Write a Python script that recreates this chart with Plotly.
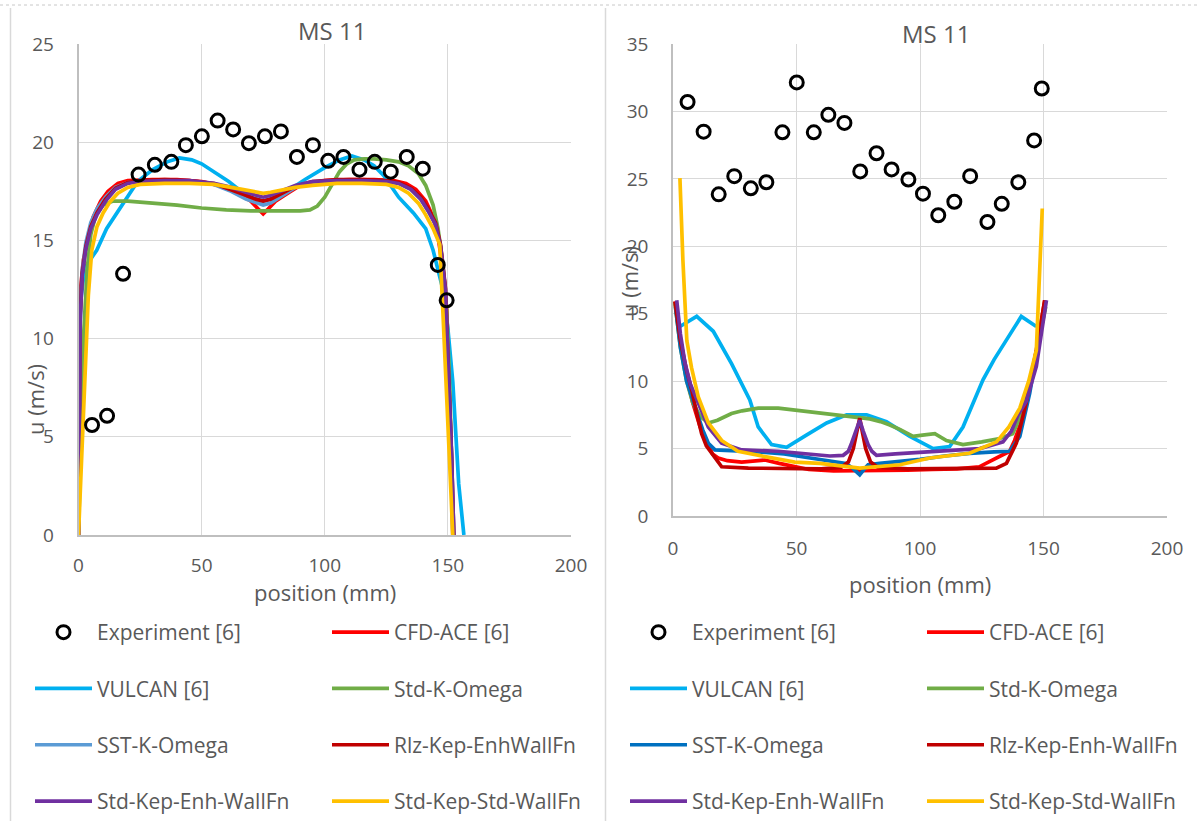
import plotly.graph_objects as go

# ---------------- data: left panel ----------------
L_exp_x = [5.5, 11.6, 18.1, 24.4, 31.0, 37.7, 43.6, 50.1, 56.5, 62.8, 69.2, 75.7, 82.2, 88.7, 95.2, 101.4, 107.6, 114.1, 120.3, 126.8, 133.3, 139.8, 145.9, 149.5]
L_exp_y = [5.6, 6.07, 13.3, 18.35, 18.85, 19.0, 19.85, 20.3, 21.1, 20.65, 19.95, 20.3, 20.55, 19.25, 19.85, 19.05, 19.25, 18.6, 19.0, 18.5, 19.25, 18.65, 13.75, 11.95]

L_cfd_x = [0, 1, 2, 4, 6, 9, 12, 16, 20, 30, 40, 50, 60, 65, 70, 73, 75, 77, 80, 85, 90, 100, 110, 120, 128, 133, 137, 141, 144, 146, 148, 149.5, 150.5, 151.5, 152]
L_cfd_y = [11.5, 13.0, 14.0, 15.2, 16.2, 17.0, 17.5, 17.9, 18.05, 18.1, 18.1, 18.0, 17.7, 17.4, 17.0, 16.6, 16.35, 16.6, 17.0, 17.4, 17.8, 18.05, 18.1, 18.1, 18.05, 17.9, 17.6, 17.0, 16.2, 15.2, 13.5, 11.5, 8.0, 3.0, 0]

L_vul_x = [0, 1, 2.5, 4.7, 7.4, 11.4, 15, 18, 24, 30, 36, 41, 46, 50, 55, 61, 66, 70, 75, 80, 86, 92, 100, 106, 111, 116, 120, 124, 130, 136, 141, 144, 148, 150, 152, 154.4, 156.5]
L_vul_y = [8.3, 12.0, 13.6, 14.0, 14.5, 15.6, 16.3, 16.9, 18.0, 18.6, 19.0, 19.2, 19.1, 18.9, 18.5, 18.0, 17.5, 17.2, 17.0, 17.2, 17.6, 18.1, 18.7, 19.1, 19.3, 19.1, 18.8, 18.3, 17.2, 16.4, 15.6, 14.5, 12.5, 10.5, 7.8, 2.6, 0]

L_sko_x = [0, 1, 2, 3.5, 5, 7, 10, 14, 20, 30, 40, 50, 60, 70, 80, 90, 94, 97, 100, 103, 106, 109, 112, 116, 120, 125, 130, 134, 138, 141, 144, 146, 148, 149.5, 150.5, 151.5, 152]
L_sko_y = [0, 5.0, 10.0, 13.5, 15.3, 16.3, 16.8, 17.0, 17.0, 16.9, 16.8, 16.65, 16.55, 16.5, 16.5, 16.5, 16.55, 16.75, 17.2, 17.9, 18.5, 18.9, 19.1, 19.15, 19.15, 19.1, 19.0, 18.8, 18.4, 17.8, 16.8, 15.6, 13.8, 11.5, 8.5, 4.0, 0]

L_sst_x = [0, 0.3, 0.7, 1.5, 3, 5, 7.5, 11, 15, 20, 25, 35, 45, 55, 62, 68, 72, 75, 78, 82, 88, 95, 105, 115, 125, 130, 135, 139, 142, 145, 147, 149, 150.5, 151.5, 152.4]
L_sst_y = [0, 6.5, 11.5, 13.5, 14.9, 15.9, 16.6, 17.2, 17.7, 17.95, 18.0, 18.05, 18.0, 17.85, 17.5, 17.1, 16.9, 16.8, 16.9, 17.2, 17.7, 17.95, 18.05, 18.05, 18.0, 17.9, 17.6, 17.1, 16.5, 15.8, 14.7, 12.5, 8.0, 4.0, 0]

L_rlz_x = [0, 0.3, 0.7, 1.5, 3, 5, 7.5, 11, 15, 20, 25, 35, 45, 55, 62, 68, 72, 75, 78, 82, 88, 95, 105, 115, 125, 130, 135, 139, 142, 145, 147, 149, 150.5, 151.5, 152.4]
L_rlz_y = [0, 6.2, 11.2, 13.3, 14.7, 15.7, 16.4, 17.1, 17.65, 17.95, 18.05, 18.1, 18.05, 17.9, 17.6, 17.3, 17.1, 17.0, 17.1, 17.35, 17.75, 18.0, 18.1, 18.1, 18.05, 17.95, 17.65, 17.2, 16.6, 15.9, 14.8, 12.6, 8.0, 4.0, 0]

L_ske_x = [0, 0.3, 0.7, 1.5, 3, 5, 7.5, 11, 15, 20, 25, 35, 45, 55, 62, 68, 72, 75, 78, 82, 88, 95, 105, 115, 125, 130, 135, 139, 142, 145, 147, 149, 150.5, 151.5, 152.4]
L_ske_y = [0, 6.0, 11.0, 13.2, 14.6, 15.6, 16.3, 17.0, 17.6, 17.9, 18.0, 18.05, 18.05, 17.9, 17.7, 17.45, 17.3, 17.2, 17.3, 17.5, 17.8, 18.0, 18.05, 18.05, 18.0, 17.9, 17.6, 17.1, 16.5, 15.8, 14.7, 12.5, 8.0, 4.0, 0]

L_sks_x = [0, 1, 2.6, 4, 5.4, 7.5, 10, 13, 16, 20, 25, 35, 45, 55, 62, 68, 72, 75, 78, 82, 88, 95, 105, 115, 125, 130, 134, 138, 141, 144, 146.7, 148, 149.5, 151, 152]
L_sks_y = [0, 3.3, 8.6, 12.2, 14.5, 15.7, 16.4, 17.0, 17.4, 17.7, 17.85, 17.9, 17.9, 17.85, 17.7, 17.55, 17.45, 17.4, 17.45, 17.55, 17.7, 17.8, 17.9, 17.9, 17.85, 17.7, 17.4, 16.9, 16.3, 15.6, 14.8, 11.3, 7.1, 2.8, 0]

# ---------------- data: right panel ----------------
R_exp_x = [5.9, 12.4, 18.5, 24.8, 31.5, 37.8, 44.3, 50.1, 57.0, 62.9, 69.4, 75.8, 82.4, 88.5, 95.3, 101.2, 107.4, 113.9, 120.3, 127.3, 133.1, 139.8, 146.2, 149.3]
R_exp_y = [30.7, 28.5, 23.85, 25.2, 24.3, 24.75, 28.45, 32.15, 28.45, 29.75, 29.15, 25.55, 26.9, 25.7, 24.95, 23.9, 22.3, 23.3, 25.2, 21.8, 23.15, 24.75, 27.85, 31.7]

R_cfd_x = [0.8, 3, 5.5, 8, 11, 14, 16, 18.3, 22, 27.8, 33, 37.2, 43, 49.3, 55, 65, 75, 85, 95, 105, 115, 124, 128, 132.3, 136.3, 138.3, 141, 144, 147, 150.5]
R_cfd_y = [15.9, 12.8, 10.3, 8.4, 6.6, 5.3, 4.6, 4.3, 4.1, 4.0, 4.1, 4.15, 3.9, 3.65, 3.45, 3.35, 3.35, 3.35, 3.4, 3.45, 3.5, 3.65, 4.0, 4.4, 4.8, 5.6, 7.0, 9.2, 12.0, 16.0]

R_vul_x = [2.8, 9.6, 16.3, 23.7, 31.1, 34.5, 39.9, 46, 54, 62.2, 70.3, 78.4, 86.4, 95.9, 105.3, 112, 117.4, 121, 125.5, 130, 135, 141, 147.1]
R_vul_y = [14.05, 14.8, 13.7, 11.3, 8.6, 6.6, 5.3, 5.1, 6.0, 6.9, 7.5, 7.5, 7.0, 5.9, 5.0, 5.15, 6.6, 8.2, 10.1, 11.6, 13.05, 14.8, 14.05]

R_sko_x = [0.8, 3, 5.5, 8, 11, 14.3, 18, 23.7, 28, 34.5, 42.6, 50, 59.5, 70.3, 79.7, 84, 87.8, 92, 97.2, 101, 106, 110.7, 117.4, 125, 132.3, 137.5, 141, 144, 147, 150.9]
R_sko_y = [15.8, 12.5, 10.0, 8.4, 7.4, 6.9, 7.1, 7.6, 7.8, 8.0, 8.0, 7.85, 7.6, 7.37, 7.2, 7.0, 6.75, 6.4, 5.9, 6.0, 6.1, 5.6, 5.3, 5.5, 5.75, 6.1, 7.5, 9.5, 12.0, 15.5]

R_sst_x = [1, 3, 5.5, 8, 10.2, 12, 14.3, 17, 25, 35, 45, 55, 62, 66.2, 70, 73, 75.6, 78, 79, 83.7, 90, 100, 110, 120, 130, 136.3, 140.4, 144.4, 148.4, 150.5]
R_sst_y = [15.5, 12.5, 10.0, 8.5, 7.4, 6.4, 5.4, 4.9, 4.85, 4.75, 4.6, 4.3, 4.1, 4.0, 3.9, 3.5, 3.05, 3.6, 3.8, 3.9, 4.0, 4.2, 4.45, 4.65, 4.75, 4.8, 5.9, 9.1, 13.3, 15.3]

R_rlz_x = [0.8, 3, 5.5, 7.6, 9.5, 11.6, 13.5, 15.6, 19.7, 30.5, 45, 60, 68, 71, 73, 74.5, 75.6, 76.7, 78, 80, 83, 95, 110, 125, 130.9, 135, 139, 143, 147.1, 150.5]
R_rlz_y = [15.9, 13.0, 10.8, 9.35, 7.7, 6.1, 5.2, 4.65, 3.65, 3.55, 3.5, 3.5, 3.6, 4.0, 5.0, 6.2, 7.25, 6.2, 5.0, 4.0, 3.6, 3.5, 3.5, 3.5, 3.55, 3.9, 5.4, 8.4, 12.3, 16.0]

R_ske_x = [1.5, 3, 4.85, 7, 10.2, 14.3, 19.7, 27.8, 42.6, 55, 63.5, 68.9, 71, 72.3, 74, 75.6, 77, 79, 80.5, 82.4, 90, 99.9, 110, 124.2, 133.6, 137, 139.7, 143, 147.1, 149.5, 151.2]
R_ske_y = [16.0, 13.5, 11.35, 9.8, 8.4, 6.6, 5.4, 4.9, 4.8, 4.6, 4.45, 4.5, 4.8, 5.4, 6.3, 7.1, 6.3, 5.3, 4.8, 4.5, 4.6, 4.7, 4.85, 5.0, 5.5, 6.3, 7.5, 8.5, 11.1, 13.8, 16.0]

R_sks_x = [2.8, 4.0, 5.6, 7.5, 10.2, 14.3, 19.7, 26.3, 37.2, 49.3, 59.5, 75.6, 91.8, 104, 120, 131, 136, 140.4, 144, 147.1, 149.5]
R_sks_y = [25.05, 19.0, 13.0, 11.0, 8.85, 6.9, 5.6, 4.8, 4.4, 4.0, 3.9, 3.55, 3.8, 4.3, 4.65, 5.5, 6.6, 8.0, 10.0, 12.3, 22.8]

# ---------------- series meta ----------------
names_left = ["Experiment [6]", "CFD-ACE [6]", "VULCAN [6]", "Std-K-Omega", "SST-K-Omega",
              "Rlz-Kep-EnhWallFn", "Std-Kep-Enh-WallFn", "Std-Kep-Std-WallFn"]
names_right = ["Experiment [6]", "CFD-ACE [6]", "VULCAN [6]", "Std-K-Omega", "SST-K-Omega",
               "Rlz-Kep-Enh-WallFn", "Std-Kep-Enh-WallFn", "Std-Kep-Std-WallFn"]
colors_left = ["#000000", "#FF0000", "#00B0F0", "#70AD47", "#5B9BD5", "#C00000", "#7030A0", "#FFC000"]
colors_right = ["#000000", "#FF0000", "#00B0F0", "#70AD47", "#0070C0", "#C00000", "#7030A0", "#FFC000"]

left_data = [(L_exp_x, L_exp_y), (L_cfd_x, L_cfd_y), (L_vul_x, L_vul_y), (L_sko_x, L_sko_y),
             (L_sst_x, L_sst_y), (L_rlz_x, L_rlz_y), (L_ske_x, L_ske_y), (L_sks_x, L_sks_y)]
right_data = [(R_exp_x, R_exp_y), (R_cfd_x, R_cfd_y), (R_vul_x, R_vul_y), (R_sko_x, R_sko_y),
              (R_sst_x, R_sst_y), (R_rlz_x, R_rlz_y), (R_ske_x, R_ske_y), (R_sks_x, R_sks_y)]

W, H = 1197, 821
FONT = "Open Sans"
GREY = "#595959"

fig = go.Figure()

def add_panel(data, names, colors, xa, ya, legs, tag):
    # draw lines first (in series order), experiment markers on top
    order = list(range(1, 8)) + [0]
    for i in order:
        x, y = data[i]
        leg = legs[0] if i % 2 == 0 else legs[1]
        rank = i // 2 + 1
        if i == 0:
            fig.add_trace(go.Scatter(
                x=x, y=y, mode="markers", name=names[i], xaxis=xa, yaxis=ya,
                marker=dict(symbol="circle-open", size=13, color="black",
                            line=dict(width=3, color="black")),
                legend=leg, legendgroup=f"{tag}{i}", legendrank=rank))
        else:
            fig.add_trace(go.Scatter(
                x=x, y=y, mode="lines", name=names[i], xaxis=xa, yaxis=ya,
                line=dict(color=colors[i], width=3.7),
                legend=leg, legendgroup=f"{tag}{i}", legendrank=rank))

add_panel(left_data, names_left, colors_left, "x", "y", ["legend", "legend2"], "L")
add_panel(right_data, names_right, colors_right, "x2", "y2", ["legend3", "legend4"], "R")

def px_x(p):
    return p / W

def px_y(p):
    return 1 - p / H

axis_common = dict(
    showgrid=True, gridcolor="#D9D9D9", gridwidth=1.3,
    zeroline=False, showline=True, linecolor="#BFBFBF", linewidth=1.5,
    ticks="", tickfont=dict(family=FONT, size=19, color=GREY),
)

layout_axes = dict(
    xaxis=dict(domain=[px_x(78.5), px_x(571)], range=[0, 200], dtick=50, anchor="y",
               ticklabelstandoff=12, **axis_common),
    yaxis=dict(domain=[px_y(535), px_y(44)], range=[0, 25], dtick=5, anchor="x",
               ticklabelstandoff=19, **axis_common),
    xaxis2=dict(domain=[px_x(673), px_x(1167)], range=[0, 200], dtick=50, anchor="y2",
                ticklabelstandoff=14, **axis_common),
    yaxis2=dict(domain=[px_y(516), px_y(44)], range=[0, 35], dtick=5, anchor="x2",
                ticklabelstandoff=19, **axis_common),
)

ITEMW = 57
leg_common = dict(font=dict(family=FONT, size=21, color=GREY), bgcolor="rgba(0,0,0,0)",
                  orientation="v", xanchor="left", yanchor="top", tracegroupgap=26,
                  itemwidth=ITEMW, itemclick=False, itemdoubleclick=False)
TXT_OFF = ITEMW + 10
legends = dict(
    legend=dict(x=px_x(97 - TXT_OFF), y=px_y(612), **leg_common),
    legend2=dict(x=px_x(394 - TXT_OFF), y=px_y(612), **leg_common),
    legend3=dict(x=px_x(692 - TXT_OFF), y=px_y(612), **leg_common),
    legend4=dict(x=px_x(989 - TXT_OFF), y=px_y(612), **leg_common),
)

annotations = [
    dict(text="MS 11", x=px_x(332), y=px_y(30), xref="paper", yref="paper", showarrow=False,
         font=dict(family=FONT, size=24, color=GREY), xanchor="center", yanchor="middle"),
    dict(text="MS 11", x=px_x(936), y=px_y(33), xref="paper", yref="paper", showarrow=False,
         font=dict(family=FONT, size=24, color=GREY), xanchor="center", yanchor="middle"),
    dict(text="position (mm)", x=px_x(325), y=px_y(592), xref="paper", yref="paper", showarrow=False,
         font=dict(family=FONT, size=22, color=GREY), xanchor="center", yanchor="middle"),
    dict(text="position (mm)", x=px_x(920), y=px_y(584), xref="paper", yref="paper", showarrow=False,
         font=dict(family=FONT, size=22, color=GREY), xanchor="center", yanchor="middle"),
    dict(text="u (m/s)", x=px_x(35), y=px_y(400), xref="paper", yref="paper", showarrow=False,
         textangle=-90, font=dict(family=FONT, size=22, color=GREY), xanchor="center", yanchor="middle"),
    dict(text="u (m/s)", x=px_x(629), y=px_y(282), xref="paper", yref="paper", showarrow=False,
         textangle=-90, font=dict(family=FONT, size=22, color=GREY), xanchor="center", yanchor="middle"),
]

shapes = [
    dict(type="line", xref="paper", yref="paper", x0=0, x1=1, y0=px_y(5), y1=px_y(5),
         line=dict(color="#C8C8C8", width=1, dash="dot")),
    dict(type="line", xref="paper", yref="paper", x0=px_x(10.5), x1=px_x(10.5), y0=0, y1=px_y(8),
         line=dict(color="#D9D9D9", width=1.5)),
    dict(type="line", xref="paper", yref="paper", x0=px_x(605.5), x1=px_x(605.5), y0=0, y1=px_y(8),
         line=dict(color="#D9D9D9", width=1.5)),
]

fig.update_layout(
    width=W, height=H, margin=dict(l=0, r=0, t=0, b=0, autoexpand=False),
    paper_bgcolor="white", plot_bgcolor="white",
    showlegend=True, annotations=annotations, shapes=shapes,
    font=dict(family=FONT, color=GREY),
    **layout_axes, **legends,
)

fig.write_html("out.html")
